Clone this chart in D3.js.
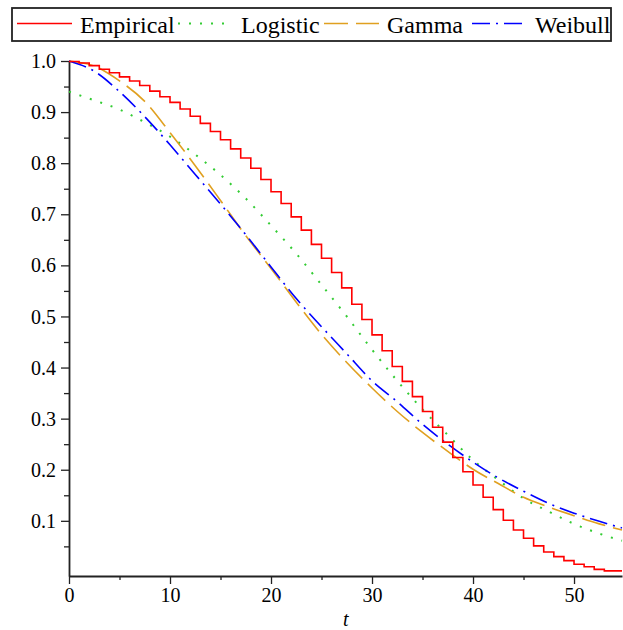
<!DOCTYPE html>
<html>
<head>
<meta charset="utf-8">
<script src="https://cdn.jsdelivr.net/npm/d3@7"></script>
<style>
  body { margin: 0; background: #fff; }
</style>
</head>
<body>
<script>
// survival curves, values
var tGrid = [0, 2.5, 5, 7.5, 10, 12.5, 15, 17.5, 20, 22.5, 25, 27.5, 30, 32.5, 35, 37.5, 40, 42.5, 45, 47.5, 50, 52.5, 54.75];
var logistic = [0.940, 0.923, 0.905, 0.880, 0.852, 0.817, 0.777, 0.731, 0.678, 0.623, 0.562, 0.500, 0.435, 0.374, 0.318, 0.268, 0.219, 0.180, 0.144, 0.118, 0.094, 0.075, 0.061];
var gamma = [1.000, 0.990, 0.961, 0.921, 0.860, 0.795, 0.727, 0.658, 0.594, 0.528, 0.465, 0.410, 0.360, 0.314, 0.273, 0.236, 0.201, 0.173, 0.146, 0.127, 0.110, 0.094, 0.082];
var weibull = [1.000, 0.980, 0.940, 0.891, 0.836, 0.778, 0.720, 0.660, 0.597, 0.535, 0.480, 0.427, 0.374, 0.333, 0.289, 0.250, 0.215, 0.184, 0.158, 0.134, 0.115, 0.099, 0.086];

// empirical step values on [k, k+1)
var empirical = [0.999, 0.996, 0.991, 0.984, 0.977, 0.969, 0.961, 0.952, 0.941, 0.930,
  0.919, 0.906, 0.892, 0.878, 0.862, 0.846, 0.828, 0.810, 0.790, 0.768,
  0.744, 0.721, 0.695, 0.669, 0.641, 0.614, 0.586, 0.556, 0.524, 0.494,
  0.464, 0.433, 0.402, 0.373, 0.343, 0.314, 0.283, 0.254, 0.224, 0.196,
  0.170, 0.146, 0.122, 0.101, 0.082, 0.066, 0.051, 0.039, 0.030, 0.022,
  0.015, 0.010, 0.005, 0.002, 0.002];

var xTicks = [0, 10, 20, 30, 40, 50];
var yTicks = [0.1, 0.2, 0.3, 0.4, 0.5, 0.6, 0.7, 0.8, 0.9, 1.0];
var legendNames = ["Empirical", "Logistic", "Gamma", "Weibull"];

var width = 623, height = 630;
var serif = 'Liberation Serif';

var x = d3.scaleLinear().domain([0, 54.75]).range([69, 622]);
var y = d3.scaleLinear().domain([-0.008, 1.0]).range([576, 61]);

var svg = d3.select('body')
  .append('svg')
    .attr('width', width)
    .attr('height', height);

// axes
var xAxis = svg.append('g')
  .attr('transform', 'translate(0,576)')
  .call(d3.axisBottom(x).tickValues(d3.range(0, 55, 5)).tickSize(0).tickFormat(''));
xAxis.select('.domain').attr('stroke', '#222').attr('stroke-width', 1.8);
xAxis.selectAll('.tick line')
  .attr('y2', function(d) { return d % 10 === 0 ? 8 : 4 })
  .attr('stroke', '#222').attr('stroke-width', 1.3);
xAxis.selectAll('.tick').filter(function(d) { return xTicks.indexOf(d) >= 0 })
  .append('text')
    .attr('y', 26)
    .attr('text-anchor', 'middle')
    .attr('fill', '#000')
    .attr('font-family', serif)
    .attr('font-size', 20)
    .text(function(d) { return d });

var yAxis = svg.append('g')
  .attr('transform', 'translate(69,0)')
  .call(d3.axisLeft(y).tickValues(d3.range(1, 21).map(function(i) { return i * 0.05 })).tickSize(0).tickFormat(''));
yAxis.select('.domain').attr('stroke', '#222').attr('stroke-width', 1.8);
yAxis.selectAll('.tick line')
  .attr('x2', function(d, i) { return (i % 2 === 1) ? -8 : -5 })
  .attr('stroke', '#222').attr('stroke-width', 1.3);
yAxis.selectAll('.tick').filter(function(d, i) { return i % 2 === 1 })
  .append('text')
    .attr('x', -13)
    .attr('dy', '0.33em')
    .attr('text-anchor', 'end')
    .attr('fill', '#000')
    .attr('font-family', serif)
    .attr('font-size', 20)
    .text(function(d, i) { return yTicks[i].toFixed(1) });

svg.append('text')
  .attr('x', x(27.4))
  .attr('y', 626)
  .attr('text-anchor', 'middle')
  .attr('font-family', serif)
  .attr('font-size', 20)
  .attr('font-style', 'italic')
  .text('t');

// curves
var smooth = d3.line()
  .x(function(d) { return x(d[0]) })
  .y(function(d) { return y(d[1]) })
  .curve(d3.curveMonotoneX);

var step = d3.line()
  .x(function(d) { return x(d[0]) })
  .y(function(d) { return y(d[1]) })
  .curve(d3.curveStepAfter);

var empData = empirical.map(function(v, i) { return [i, v] });
empData.push([54.75, empirical[empirical.length - 1]]);

var series = [
  { name: 'Empirical', data: empData, gen: step, color: '#ff0000', dash: null, w: 1.6 },
  { name: 'Logistic', data: tGrid.map(function(t, i) { return [t, logistic[i]] }), gen: smooth, color: '#33cc33', dash: '2,9', w: 2 },
  { name: 'Gamma', data: tGrid.map(function(t, i) { return [t, gamma[i]] }), gen: smooth, color: '#e0a020', dash: '24,8', w: 1.6 },
  { name: 'Weibull', data: tGrid.map(function(t, i) { return [t, weibull[i]] }), gen: smooth, color: '#0000ff', dash: '18,6,2,6', w: 1.6 }
];

// draw order: logistic, gamma, weibull, then empirical on top
[1, 2, 3, 0].forEach(function(k) {
  var s = series[k];
  svg.append('path')
    .datum(s.data)
    .attr('fill', 'none')
    .attr('stroke', s.color)
    .attr('stroke-width', s.w)
    .attr('stroke-dasharray', s.dash)
    .attr('d', s.gen);
});

// legend
var legend = svg.append('g');
legend.append('rect')
  .attr('x', 12).attr('y', 8)
  .attr('width', 599).attr('height', 33)
  .attr('fill', '#fff')
  .attr('stroke', '#222')
  .attr('stroke-width', 1.8);

var legX = [17, 178, 324, 472];
var legW = [55, 49, 55, 50];
var legTextX = [80, 241, 387, 535];
series.forEach(function(s, i) {
  legend.append('line')
    .attr('x1', legX[i]).attr('x2', legX[i] + legW[i])
    .attr('y1', 23.5).attr('y2', 23.5)
    .attr('stroke', s.color)
    .attr('stroke-width', s.w)
    .attr('stroke-dasharray', s.dash);
  legend.append('text')
    .attr('x', legTextX[i])
    .attr('y', 33)
    .attr('font-family', serif)
    .attr('font-size', 24)
    .text(legendNames[i]);
});
</script>
</body>
</html>
